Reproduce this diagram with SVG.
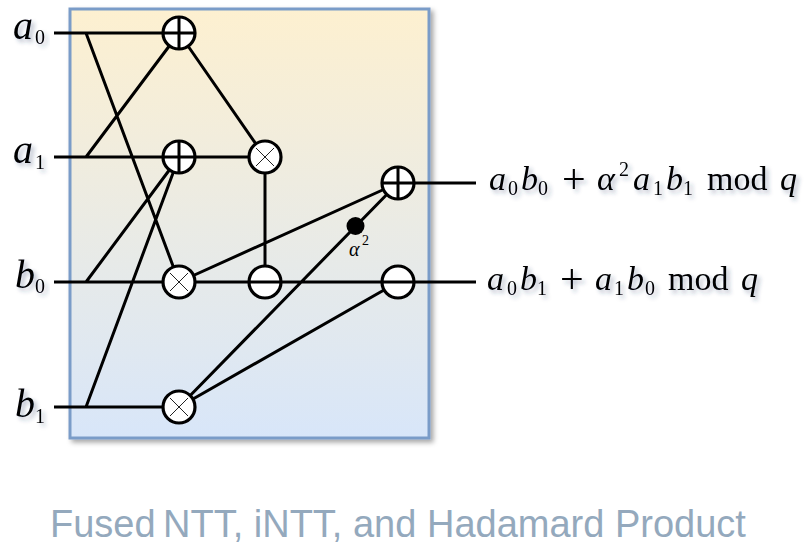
<svg xmlns="http://www.w3.org/2000/svg" width="805" height="546" viewBox="0 0 805 546">
<style>
.w{fill:none;stroke:#000;stroke-width:3;stroke-linecap:butt}
.n{fill:#fff;stroke:#000;stroke-width:3.2}
.i{fill:none;stroke:#000;stroke-width:3}
.t{fill:none;stroke:#222;stroke-width:1}
.m{font-family:"Liberation Serif",serif;fill:#000;filter:url(#ts)}
.it{font-style:italic}
.s{font-size:20px}
.p{font-size:42px}
</style>
<defs>
<linearGradient id="bg" x1="0" y1="0" x2="0" y2="1"><stop offset="0" stop-color="#fdf0d0"/><stop offset="1" stop-color="#d8e6f9"/></linearGradient>
<filter id="rs" x="-5%" y="-5%" width="112%" height="112%"><feDropShadow dx="3" dy="3" stdDeviation="2.5" flood-color="#000" flood-opacity=".35"/></filter>
<filter id="ts" x="-10%" y="-20%" width="125%" height="150%"><feDropShadow dx="3" dy="3" stdDeviation="2.2" flood-color="#2a3a66" flood-opacity=".35"/></filter>
</defs>
<rect x="70" y="9" width="359" height="429" fill="url(#bg)" stroke="#7a9cc8" stroke-width="3" filter="url(#rs)"/>
<g id="connectors">
<path class="w" d="M54 33H179M86 33L179 282M54 157H265M86 157L179 33M54 282H476M86 282L179 157M54 407H179M86 407L179 157M179 33L265 157M265 157V282M179 282L398 183M179 407L398 183M179 407L398 282M398 183H476"/>
</g>
<g id="add-a0"><circle class="n" cx="179" cy="33" r="16"/><path class="i" d="M163 33H195M179 17V49"/></g>
<g id="add-a1"><circle class="n" cx="179" cy="157" r="16"/><path class="i" d="M163 157H195M179 141V173"/></g>
<g id="mul-top"><circle class="n" cx="265" cy="157" r="16"/><path class="t" d="M256 148L274 166M274 148L256 166"/></g>
<g id="mul-b0"><circle class="n" cx="179" cy="282" r="16"/><path class="t" d="M170 273L188 291M188 273L170 291"/></g>
<g id="mul-b1"><circle class="n" cx="179" cy="407" r="16"/><path class="t" d="M170 398L188 416M188 398L170 416"/></g>
<g id="sub-mid"><circle class="n" cx="265" cy="282" r="16"/><path class="i" d="M249 282H281"/></g>
<g id="add-out"><circle class="n" cx="398" cy="183" r="16"/><path class="i" d="M382 183H414M398 167V199"/></g>
<g id="sub-out"><circle class="n" cx="398" cy="282" r="16"/><path class="i" d="M382 282H414"/></g>
<g id="twiddle"><circle cx="355.500" cy="226" r="9" fill="#000"/>
<text class="m" style="filter:none" font-size="20" font-style="italic" x="349" y="256">α</text><text class="m" style="filter:none" font-size="14" x="362" y="245">2</text></g>
<g id="labels">
<text class="m" font-size="40"><tspan class="it" x="13" y="39">a</tspan><tspan class="s" x="35" y="44">0</tspan></text>
<text class="m" font-size="40"><tspan class="it" x="13" y="163">a</tspan><tspan class="s" x="35" y="169">1</tspan></text>
<text class="m" font-size="40"><tspan class="it" x="15" y="288">b</tspan><tspan class="s" x="35" y="293">0</tspan></text>
<text class="m" font-size="40"><tspan class="it" x="15" y="417">b</tspan><tspan class="s" x="35" y="423">1</tspan></text>
<text class="m" font-size="34"><tspan class="it" x="489" y="190">a</tspan><tspan class="s" x="508" y="195">0</tspan><tspan class="it" x="521" y="190">b</tspan><tspan class="s" x="538" y="195">0</tspan><tspan class="p" x="562" y="193">+</tspan><tspan class="it" x="597" y="190">α</tspan><tspan class="s" x="619" y="176">2</tspan><tspan class="it" x="633" y="190">a</tspan><tspan class="s" x="653" y="195">1</tspan><tspan class="it" x="666" y="190">b</tspan><tspan class="s" x="683" y="195">1</tspan><tspan x="707" y="190">mod</tspan><tspan class="it" x="780" y="190">q</tspan></text>
<text class="m" font-size="34"><tspan class="it" x="487" y="290">a</tspan><tspan class="s" x="507" y="295">0</tspan><tspan class="it" x="520" y="290">b</tspan><tspan class="s" x="537" y="295">1</tspan><tspan class="p" x="560" y="293">+</tspan><tspan class="it" x="595" y="290">a</tspan><tspan class="s" x="614" y="295">1</tspan><tspan class="it" x="627" y="290">b</tspan><tspan class="s" x="645" y="295">0</tspan><tspan x="668" y="290">mod</tspan><tspan class="it" x="741" y="290">q</tspan></text>
<text font-family="Liberation Sans,Arial,sans-serif" font-size="38" fill="#94a9bd" y="537"><tspan x="50">Fused</tspan><tspan x="163">NTT, iNTT, and Hadamard Product</tspan></text>
</g>
</svg>
